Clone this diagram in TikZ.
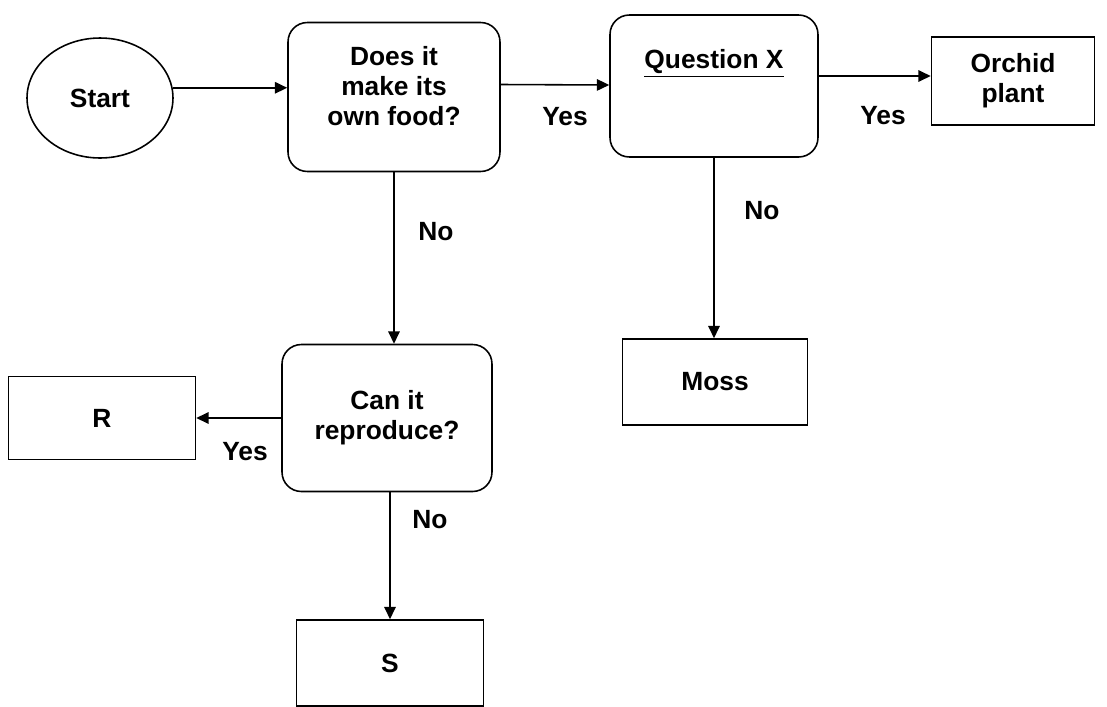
\documentclass[tikz,border=0pt]{standalone}
\usepackage{fontspec}
\setmainfont{Liberation Sans}
\usetikzlibrary{arrows.meta,shapes.geometric}
\begin{document}
\begin{tikzpicture}[x=0.02cm, y=-0.02cm, line width=0.9pt,
    font=\fontsize{15}{17}\selectfont\bfseries,
    qbox/.style={draw, rounded corners=11pt, align=center, inner sep=0pt},
    abox/.style={draw, align=center, inner sep=0pt},
    flow/.style={-{Triangle[length=7pt,width=6.5pt]}},
    lbl/.style={inner sep=0pt}]
    \useasboundingbox (0,0) rectangle (1107,707) ;
    \node [draw, ellipse, minimum width=2.92cm, minimum height=2.4cm, inner sep=0pt] (start) at (100,98) {Start} ;
    \node [qbox, minimum width=4.24cm, minimum height=2.98cm] (does) at (394,97) {Does it\\make its\\own food?\\[-4pt]} ;
    \node [qbox, minimum width=4.16cm, minimum height=2.84cm] (qx) at (714,86) {\underline{Question X}\\[9pt]\strut} ;
    \node [abox, minimum width=3.26cm, minimum height=1.76cm] (orchid) at (1013,81) {Orchid\\plant} ;
    \node [abox, minimum width=3.7cm, minimum height=1.72cm] (moss) at (715,382) {Moss} ;
    \node [qbox, minimum width=4.2cm, minimum height=2.94cm] (can) at (387,418) {Can it\\reproduce?} ;
    \node [abox, minimum width=3.74cm, minimum height=1.66cm] (rbox) at (102,418) {R} ;
    \node [abox, minimum width=3.74cm, minimum height=1.72cm] (sbox) at (390,663) {S} ;

    \draw [flow] (start.8) -- (start.8 -| does.west) ;
    \draw [flow] ([yshift=0.25cm]does.east) -- ([yshift=0.02cm]qx.west) ;
    \node [lbl] (yes1) at (565,117) {Yes} ;
    \draw [flow] ([yshift=0.2cm]qx.east) -- ([yshift=0.1cm]orchid.west) ;
    \node [lbl] (yes2) at (883,116) {Yes} ;
    \draw [flow] (does.south) -- (does.south |- can.north) ;
    \node [lbl] (no1) at (436,232) {No} ;
    \draw [flow] (qx.south) -- (qx.south |- moss.north) ;
    \node [lbl] (no2) at (762,211) {No} ;
    \draw [flow] (can.west) -- (rbox.east) ;
    \node [lbl] (yes3) at (245,452) {Yes} ;
    \draw [flow] (sbox.north |- can.south) -- (sbox.north) ;
    \node [lbl] (no3) at (430,520) {No} ;
\end{tikzpicture}
\end{document}
